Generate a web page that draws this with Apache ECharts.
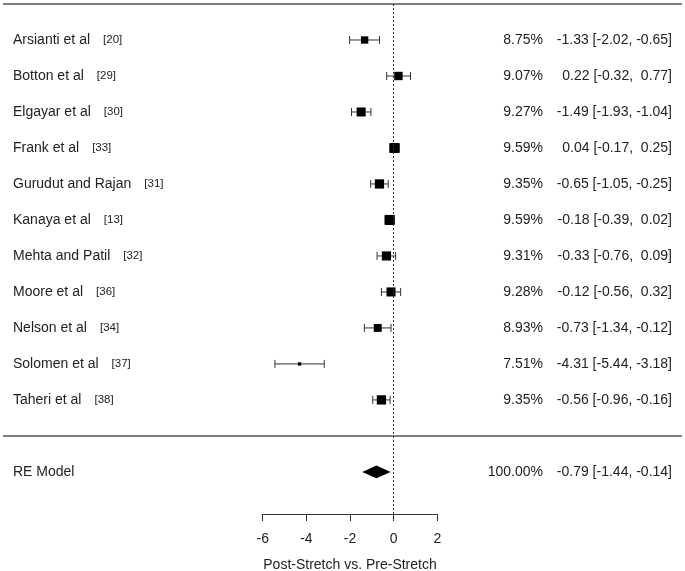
<!DOCTYPE html>
<html><head><meta charset="utf-8">
<script src="https://cdn.jsdelivr.net/npm/echarts@6/dist/echarts.min.js"></script>
<style>html,body{margin:0;padding:0;background:#fff}#c{width:685px;height:571px}</style>
</head><body><div id="c"></div>
<script>
// ---- data ----
const studies = ["Arsianti et al","Botton et al","Elgayar et al","Frank et al","Gurudut and Rajan","Kanaya et al","Mehta and Patil","Moore et al","Nelson et al","Solomen et al","Taheri et al"];
const refs = ["[20]","[29]","[30]","[33]","[31]","[13]","[32]","[36]","[34]","[37]","[38]"];
const weights = [8.75, 9.07, 9.27, 9.59, 9.35, 9.59, 9.31, 9.28, 8.93, 7.51, 9.35];
const est = [-1.33, 0.22, -1.49, 0.04, -0.65, -0.18, -0.33, -0.12, -0.73, -4.31, -0.56];
const ciLow = [-2.02, -0.32, -1.93, -0.17, -1.05, -0.39, -0.76, -0.56, -1.34, -5.44, -0.96];
const ciHigh = [-0.65, 0.77, -1.04, 0.25, -0.25, 0.02, 0.09, 0.32, -0.12, -3.18, -0.16];
const reLabel = "RE Model";
const reWeight = 100.00;
const reEst = -0.79;
const reLow = -1.44;
const reHigh = -0.14;
const xTitle = "Post-Stretch vs. Pre-Stretch";

// ---- build ----
const FONT = "'Liberation Sans', Arial, sans-serif";
const TXT = '#222';
const k = studies.length;
const rowOf = i => k - i;
const RE_ROW = -1;
const rows = studies.map((s, i) => rowOf(i)).concat([RE_ROW]);
const fmt = v => (v >= 0 ? ' ' : '') + v.toFixed(2);
const leftLab = {}, wLab = {}, eLab = {};
studies.forEach((s, i) => {
  const r = rowOf(i);
  leftLab[r] = '{n|' + s + '}{r|' + refs[i] + '}';
  wLab[r] = weights[i].toFixed(2) + '%';
  eLab[r] = fmt(est[i]) + ' [' + fmt(ciLow[i]) + ', ' + fmt(ciHigh[i]) + ']';
});
leftLab[RE_ROW] = '{n|' + reLabel + '}';
wLab[RE_ROW] = reWeight.toFixed(2) + '%';
eLab[RE_ROW] = fmt(reEst) + ' [' + fmt(reLow) + ', ' + fmt(reHigh) + ']';

const wMin = Math.min(...weights), wMax = Math.max(...weights);
const sizeOf = w => 6.7 * (0.5 + (w - wMin) / (wMax - wMin));

const YMIN = -2.17, YMAX = 12;
const yBase = {
  type: 'value', min: YMIN, max: YMAX,
  axisLine: {show: false, onZero: false}, axisTick: {show: false}, splitLine: {show: false}
};

const chart = echarts.init(document.getElementById('c'), null, {renderer: 'canvas'});
chart.setOption({
  animation: false,
  backgroundColor: '#fff',
  textStyle: {fontFamily: FONT},
  grid: {left: 262.7, right: 247.7, top: 4, bottom: 57, containLabel: false, outerBoundsMode: 'none'},
  xAxis: {
    type: 'value', min: -6, max: 2, interval: 2, position: 'bottom',
    axisLine: {onZero: false, lineStyle: {color: '#333', width: 1}},
    axisTick: {length: 7, lineStyle: {color: '#333', width: 1}},
    axisLabel: {margin: 18, fontSize: 14, color: TXT, fontFamily: FONT},
    splitLine: {show: false},
    name: xTitle, nameLocation: 'middle', nameGap: 44,
    nameTextStyle: {fontSize: 14, color: TXT, fontFamily: FONT}
  },
  yAxis: [
    Object.assign({}, yBase, {position: 'left', axisLabel: {
      customValues: rows, align: 'left', margin: 249.7,
      formatter: v => leftLab[v] || '',
      rich: {
        n: {fontSize: 14, color: TXT, fontFamily: FONT},
        r: {fontSize: 11.5, color: TXT, fontFamily: FONT, padding: [0, 0, 1, 13]}
      }
    }}),
    Object.assign({}, yBase, {position: 'right', axisLabel: {
      customValues: rows, align: 'right', margin: 105.7, fontSize: 14, color: TXT, fontFamily: FONT,
      formatter: v => wLab[v] || ''
    }}),
    Object.assign({}, yBase, {position: 'right', axisLabel: {
      customValues: rows, align: 'right', margin: 234.7, fontSize: 14, color: TXT, fontFamily: FONT,
      formatter: v => eLab[v] || ''
    }})
  ],
  series: [
    {
      type: 'custom', name: 'rules', silent: true, clip: false,
      data: [[0, YMAX], [0, 0]],
      encode: {x: 0, y: 1},
      renderItem: (params, api) => {
        const y = api.coord([0, api.value(1)])[1];
        return {type: 'line', shape: {x1: 3, y1: y, x2: api.getWidth() - 3, y2: y},
                style: {stroke: '#555', lineWidth: 1.5}};
      }
    },
    {
      type: 'custom', name: 'ci', silent: true, clip: false,
      data: studies.map((s, i) => [ciLow[i], ciHigh[i], rowOf(i)]),
      encode: {x: [0, 1], y: 2},
      renderItem: (params, api) => {
        const a = api.coord([api.value(0), api.value(2)]);
        const b = api.coord([api.value(1), api.value(2)]);
        const h = 4;
        const st = {stroke: '#333', lineWidth: 1};
        return {type: 'group', children: [
          {type: 'line', shape: {x1: a[0], y1: a[1], x2: b[0], y2: b[1]}, style: st},
          {type: 'line', shape: {x1: a[0], y1: a[1] - h, x2: a[0], y2: a[1] + h}, style: st},
          {type: 'line', shape: {x1: b[0], y1: b[1] - h, x2: b[0], y2: b[1] + h}, style: st}
        ]};
      }
    },
    {
      type: 'scatter', name: 'est', silent: true,
      symbol: 'rect',
      data: studies.map((s, i) => ({value: [est[i], rowOf(i)], symbolSize: sizeOf(weights[i])})),
      itemStyle: {color: '#000', opacity: 1},
      markLine: {
        silent: true, symbol: 'none', label: {show: false},
        lineStyle: {type: [2, 2], color: '#333', width: 1},
        data: [{xAxis: 0}]
      }
    },
    {
      type: 'custom', name: 're', silent: true, clip: false,
      data: [[reLow, reEst, reHigh, RE_ROW]],
      encode: {x: [0, 1, 2], y: 3},
      renderItem: (params, api) => {
        const l = api.coord([api.value(0), api.value(3)]);
        const c = api.coord([api.value(1), api.value(3)]);
        const r = api.coord([api.value(2), api.value(3)]);
        const hh = 6.3;
        return {type: 'polygon', shape: {points: [[l[0], l[1]], [c[0], c[1] - hh], [r[0], r[1]], [c[0], c[1] + hh]]},
                style: {fill: '#000'}};
      }
    }
  ]
});
</script>
</body></html>
